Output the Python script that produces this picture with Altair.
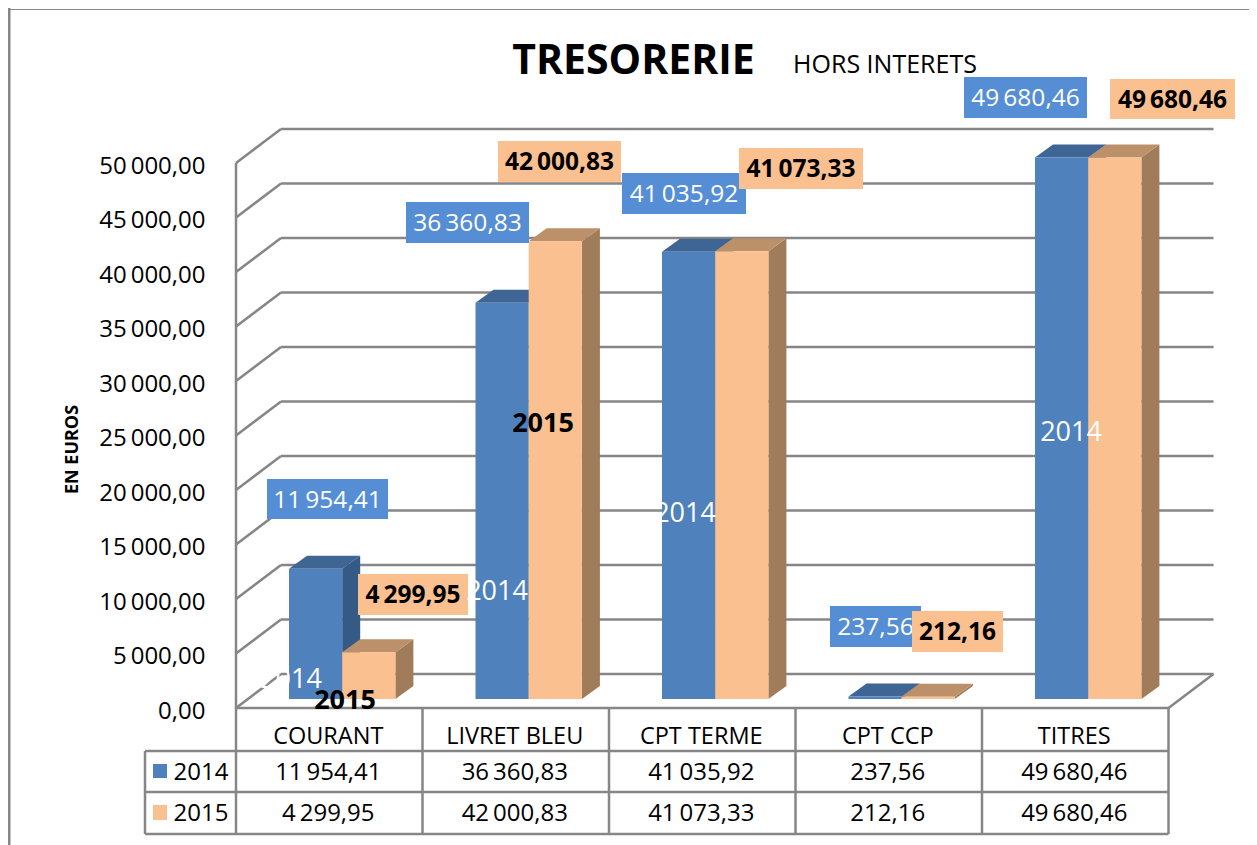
import altair as alt
import pandas as pd

# ---- data ----
categories = ["COURANT", "LIVRET BLEU", "CPT TERME", "CPT CCP", "TITRES"]
series_names = ["2014", "2015"]
values_2014 = [11954.41, 36360.83, 41035.92, 237.56, 49680.46]
values_2015 = [4299.95, 42000.83, 41073.33, 212.16, 49680.46]
axis_ticks = [0, 5000, 10000, 15000, 20000, 25000, 30000, 35000, 40000, 45000, 50000]

# ---- layout (reference pixels) ----
FONT = "Open Sans"
K = 0.0109            # pixels per euro
Y0 = 708              # pixel row of value 0 on the front of the box
def U(py):            # pixel row -> axis units
    return (Y0 - py) / K
BAR_BASE = 699
DX, DY = 18, 13       # depth of a bar
BAR_LEFT, BAR_STEP, BAR_W = 289, 186.5, 53.2
WALL_L, WALL_R = 236, 1168.5
BACK_DX, BACK_DY = 45, 34
COL_W = (WALL_R - WALL_L) / 5
ROW_Y = [708, 751, 792, 834]
TABLE_L = 145
GRID = "#868686"
SW = 2.5
BLUE, ORANGE = "#4F81BD", "#FAC090"
FACE_COL = {"f14": BLUE, "s14": "#355A86", "t14": "#3F6594",
            "f15": ORANGE, "s15": "#A07C5B", "t15": "#BC9068"}
BOX_BLUE, BOX_ORANGE = "#558ED5", "#FAC090"

# label boxes: x0, x1, y0, y1 per category
boxes_2014 = [(267, 388, 479, 519), (406, 529, 202, 243), (622, 746, 173, 214),
              (830, 921, 606, 647), (964, 1087, 77, 118)]
boxes_2015 = [(358, 468, 574, 615), (498, 621, 141, 182), (739, 863, 148, 189),
              (912, 1003, 611, 652), (1110, 1235, 79, 119)]
# series-name labels inside bars: text, x, y
names_white = [("2014", 291, 678), ("2014", 497, 590), ("2014", 685, 512), ("2014", 1071, 431)]
names_black = [("2015", 345, 699), ("2015", 543, 422)]


def fmt(v):
    return f"{v:,.2f}".replace(",", "\u2009").replace(".", ",")


X_SCALE = alt.Scale(domain=[236, 1249], range=[0, 1013], nice=False, zero=False)
Y_SCALE = alt.Scale(domain=[U(845), U(8)], range=[837, 0], nice=False, zero=False)
LABEL_EXPR = "replace(replace(format(datum.value, ',.2f'), ',', '\u2009'), '.', ',')"
Y_AXIS = alt.Axis(
    values=axis_ticks, labelExpr=LABEL_EXPR, domain=False, ticks=False, grid=False,
    labelFont=FONT, labelFontSize=24, labelColor="black", labelPadding=31, labelOffset=3,
    title="EN EUROS", titleFont=FONT, titleFontSize=18, titleFontWeight="bold",
    titleColor="black",
    titleX=-164, titleY=441, titleAlign="center", titleBaseline="middle",
)


def X(f="x"):
    return alt.X(f"{f}:Q", scale=X_SCALE, axis=None)


def Y(f="y"):
    return alt.Y(f"{f}:Q", scale=Y_SCALE, axis=Y_AXIS, stack=None)


def rules(rows, color=GRID, width=SW):
    return alt.Chart(pd.DataFrame(rows, columns=["x", "y", "x2", "y2"])).mark_rule(
        color=color, strokeWidth=width
    ).encode(x=X(), y=Y(), x2="x2:Q", y2="y2:Q")


def texts(rows, size, color="black", weight="normal"):
    return alt.Chart(pd.DataFrame(rows, columns=["t", "x", "y"])).mark_text(
        align="center", baseline="middle", font=FONT, fontSize=size, color=color, fontWeight=weight, dy=1.5
    ).encode(x=X(), y=Y(), text="t:N")


def rects(rows, color):
    return alt.Chart(pd.DataFrame(rows, columns=["x", "x2", "y", "y2"])).mark_rect(color=color).encode(
        x=X(), x2="x2:Q", y=Y(), y2="y2:Q"
    )


# frame and box walls
frame = rules([(9, U(8), 9, U(845))], width=3)
frame_top = rules([(8, U(9.5), 1249, U(9.5))], width=1)
grid_rows = []
for v in axis_ticks:
    grid_rows.append((WALL_L, v, WALL_L + BACK_DX, v + BACK_DY / K))
    grid_rows.append((WALL_L + BACK_DX, v + BACK_DY / K, WALL_R + BACK_DX, v + BACK_DY / K))
grid_rows.append((WALL_L, 0, WALL_L, 50000))
grid_rows.append((WALL_R, 0, WALL_R + BACK_DX, BACK_DY / K))
walls = rules(grid_rows)

# table
tbl = []
for i in range(6):
    tbl.append((WALL_L + i * COL_W, U(ROW_Y[0]), WALL_L + i * COL_W, U(ROW_Y[3])))
for yy in ROW_Y:
    tbl.append((WALL_L if yy == ROW_Y[0] else TABLE_L, U(yy), WALL_R, U(yy)))
tbl.append((TABLE_L, U(ROW_Y[1]), TABLE_L, U(ROW_Y[3])))
table = rules(tbl)
cx = [WALL_L + (i + 0.5) * COL_W for i in range(5)]
tbl_head = texts([(c, x - 1, U(735)) for c, x in zip(categories, cx)], 23.5)
tbl_r1 = texts([(fmt(v), x - 1, U(771.5)) for v, x in zip(values_2014, cx)], 24)
tbl_r2 = texts([(fmt(v), x - 1, U(812.5)) for v, x in zip(values_2015, cx)], 24)
leg_text = texts([(series_names[0], 201, U(771)), (series_names[1], 201, U(812))], 24)
leg_a = rects([(153, 167, U(764), U(778))], BLUE)
leg_b = rects([(153, 167, U(805), U(820))], ORANGE)

# 3D bars
base = (Y0 - BAR_BASE) / K
du = DY / K


def faces(values, first, tag):
    rows, fronts = [], []
    for i, v in enumerate(values):
        x0 = BAR_LEFT + i * BAR_STEP + first * BAR_W
        x1 = x0 + BAR_W
        top = v + base
        key = f"{tag}{i}"
        rows += [
            (key + "s", "s" + tag, x1, top, base),
            (key + "s", "s" + tag, x1 + DX, top + du, base + du),
            (key + "t", "t" + tag, x0, top, top),
            (key + "t", "t" + tag, x0 + DX, top + du, top),
            (key + "t", "t" + tag, x1, top + du, top),
            (key + "t", "t" + tag, x1 + DX, top + du, top + du),
        ]
        fronts.append((x0, x1, top, base))
    return rows, fronts


def area_layer(rows):
    df = pd.DataFrame(rows, columns=["id", "face", "x", "y", "y2"])
    return alt.Chart(df).mark_area(orient="vertical", interpolate="linear").encode(
        x=X(), y=Y(), y2="y2:Q", detail="id:N",
        color=alt.Color("face:N", legend=None,
                        scale=alt.Scale(domain=list(FACE_COL), range=list(FACE_COL.values()))),
    )


r14, f14 = faces(values_2014, 0, "14")
r15, f15 = faces(values_2015, 1, "15")
bars = [area_layer(r14), rects(f14, BLUE), area_layer(r15), rects(f15, ORANGE)]


def box_rows(b):
    return [(x0, x1, U(y0), U(y1)) for x0, x1, y0, y1 in b]


def box_text(vals, b):
    return [(fmt(v), (x0 + x1) / 2, U((y0 + y1) / 2)) for v, (x0, x1, y0, y1) in zip(vals, b)]


layers = [frame, frame_top, walls, table, tbl_head, tbl_r1, tbl_r2, leg_a, leg_b, leg_text] + bars + [
    rects(box_rows(boxes_2014), BOX_BLUE),
    texts(box_text(values_2014, boxes_2014), 24.5, "white"),
    rects(box_rows(boxes_2015), BOX_ORANGE),
    texts(box_text(values_2015, boxes_2015), 24.5, "black", "bold"),
    texts([(t, x, U(y)) for t, x, y in names_white], 27, "white"),
    texts([(t, x, U(y)) for t, x, y in names_black], 27, "black", "bold"),
    texts([("TRESORERIE", 633.5, U(60))], 41, "black", "bold"),
    texts([("HORS INTERETS", 885, U(63))], 25),
]

chart = alt.layer(*layers).properties(
    width=1013, height=837,
    autosize=alt.AutoSizeParams(type="none"),
    padding={"left": 228, "top": 0, "right": 0, "bottom": 0},
    background="white",
).configure_view(stroke=None)

chart.save("out.html", embed_options={"renderer": "svg", "actions": False})
